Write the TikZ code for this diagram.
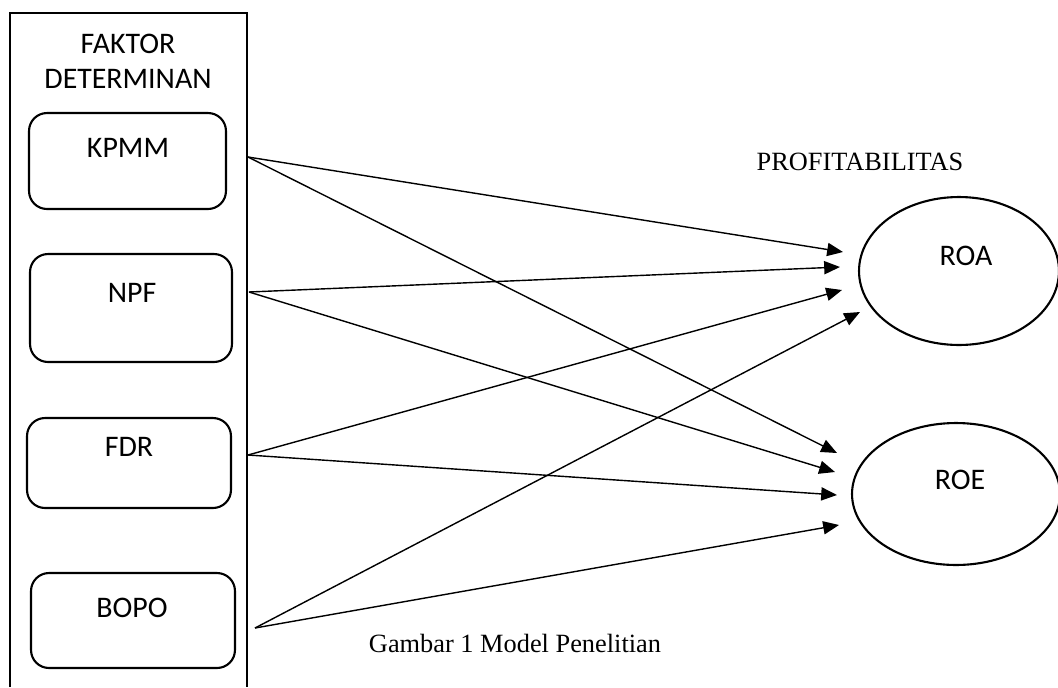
\documentclass[tikz,border=0pt]{standalone}
\usepackage{fontspec}
\setmainfont{Liberation Serif}
\newfontfamily\carlito{Carlito}
\usetikzlibrary{arrows.meta,shapes.geometric}

\tikzset{
  factor/.style={draw, line width=1.2pt, rounded corners=0.36cm},
  ratio/.style={draw, ellipse, line width=1.2pt},
  sanslabel/.style={font=\carlito\fontsize{17}{20}\selectfont, inner sep=0pt, align=center},
  seriflabel/.style={font=\fontsize{15}{18}\selectfont, inner sep=0pt},
  link/.style={line width=0.8pt, -{Triangle[length=9pt,width=7.5pt]}}
}

\begin{document}
\begin{tikzpicture}[x=0.02cm, y=-0.02cm]
\useasboundingbox (0,0) rectangle (1058,687);
% faktor determinan
\draw[line width=1.2pt] (10,687) -- (10,13) -- (247,13) -- (247,687);
\node[sanslabel] (faktor) at (128,61) {FAKTOR\\DETERMINAN};

\node[factor, minimum width=3.94cm, minimum height=1.92cm] (kpmm) at (127.5,161) {};
\node[sanslabel] (kpmmtext) at (128,148) {KPMM};
\node[factor, minimum width=4.04cm, minimum height=2.16cm] (npf) at (131,308) {};
\node[sanslabel] (npftext) at (132,293) {NPF};
\node[factor, minimum width=4.08cm, minimum height=1.8cm] (fdr) at (129,463) {};
\node[sanslabel] (fdrtext) at (129,447) {FDR};
\node[factor, minimum width=4.08cm, minimum height=1.9cm] (bopo) at (133,620.5) {};
\node[sanslabel] (bopotext) at (132,608) {BOPO};

% profitabilitas
\node[seriflabel] (profit) at (860,162) {PROFITABILITAS};
\node[ratio, minimum width=4cm, minimum height=2.96cm] (roa) at (959,271) {};
\node[sanslabel] (roatext) at (966,256) {ROA};
\node[ratio, minimum width=4.16cm, minimum height=2.84cm] (roe) at (956,494) {};
\node[sanslabel] (roetext) at (960,480) {ROE};

% titik pangkal dan ujung panah
\coordinate (kpmmport) at (248,157);
\coordinate (npfport) at (249,292);
\coordinate (fdrport) at (248,455);
\coordinate (bopoport) at (255,628);
\coordinate (roa1) at (843,252);
\coordinate (roa2) at (840,267);
\coordinate (roa3) at (842,290);
\coordinate (roa4) at (860,312);
\coordinate (roe1) at (837,453);
\coordinate (roe2) at (835,472);
\coordinate (roe3) at (837,495);
\coordinate (roe4) at (839,525);

\draw[link] (kpmmport) -- (roa1);
\draw[link] (kpmmport) -- (roe1);
\draw[link] (npfport) -- (roa2);
\draw[link] (npfport) -- (roe2);
\draw[link] (fdrport) -- (roa3);
\draw[link] (fdrport) -- (roe3);
\draw[link] (bopoport) -- (roa4);
\draw[link] (bopoport) -- (roe4);

\node[seriflabel] (caption) at (515,643) {Gambar 1 Model Penelitian};
\end{tikzpicture}
\end{document}
